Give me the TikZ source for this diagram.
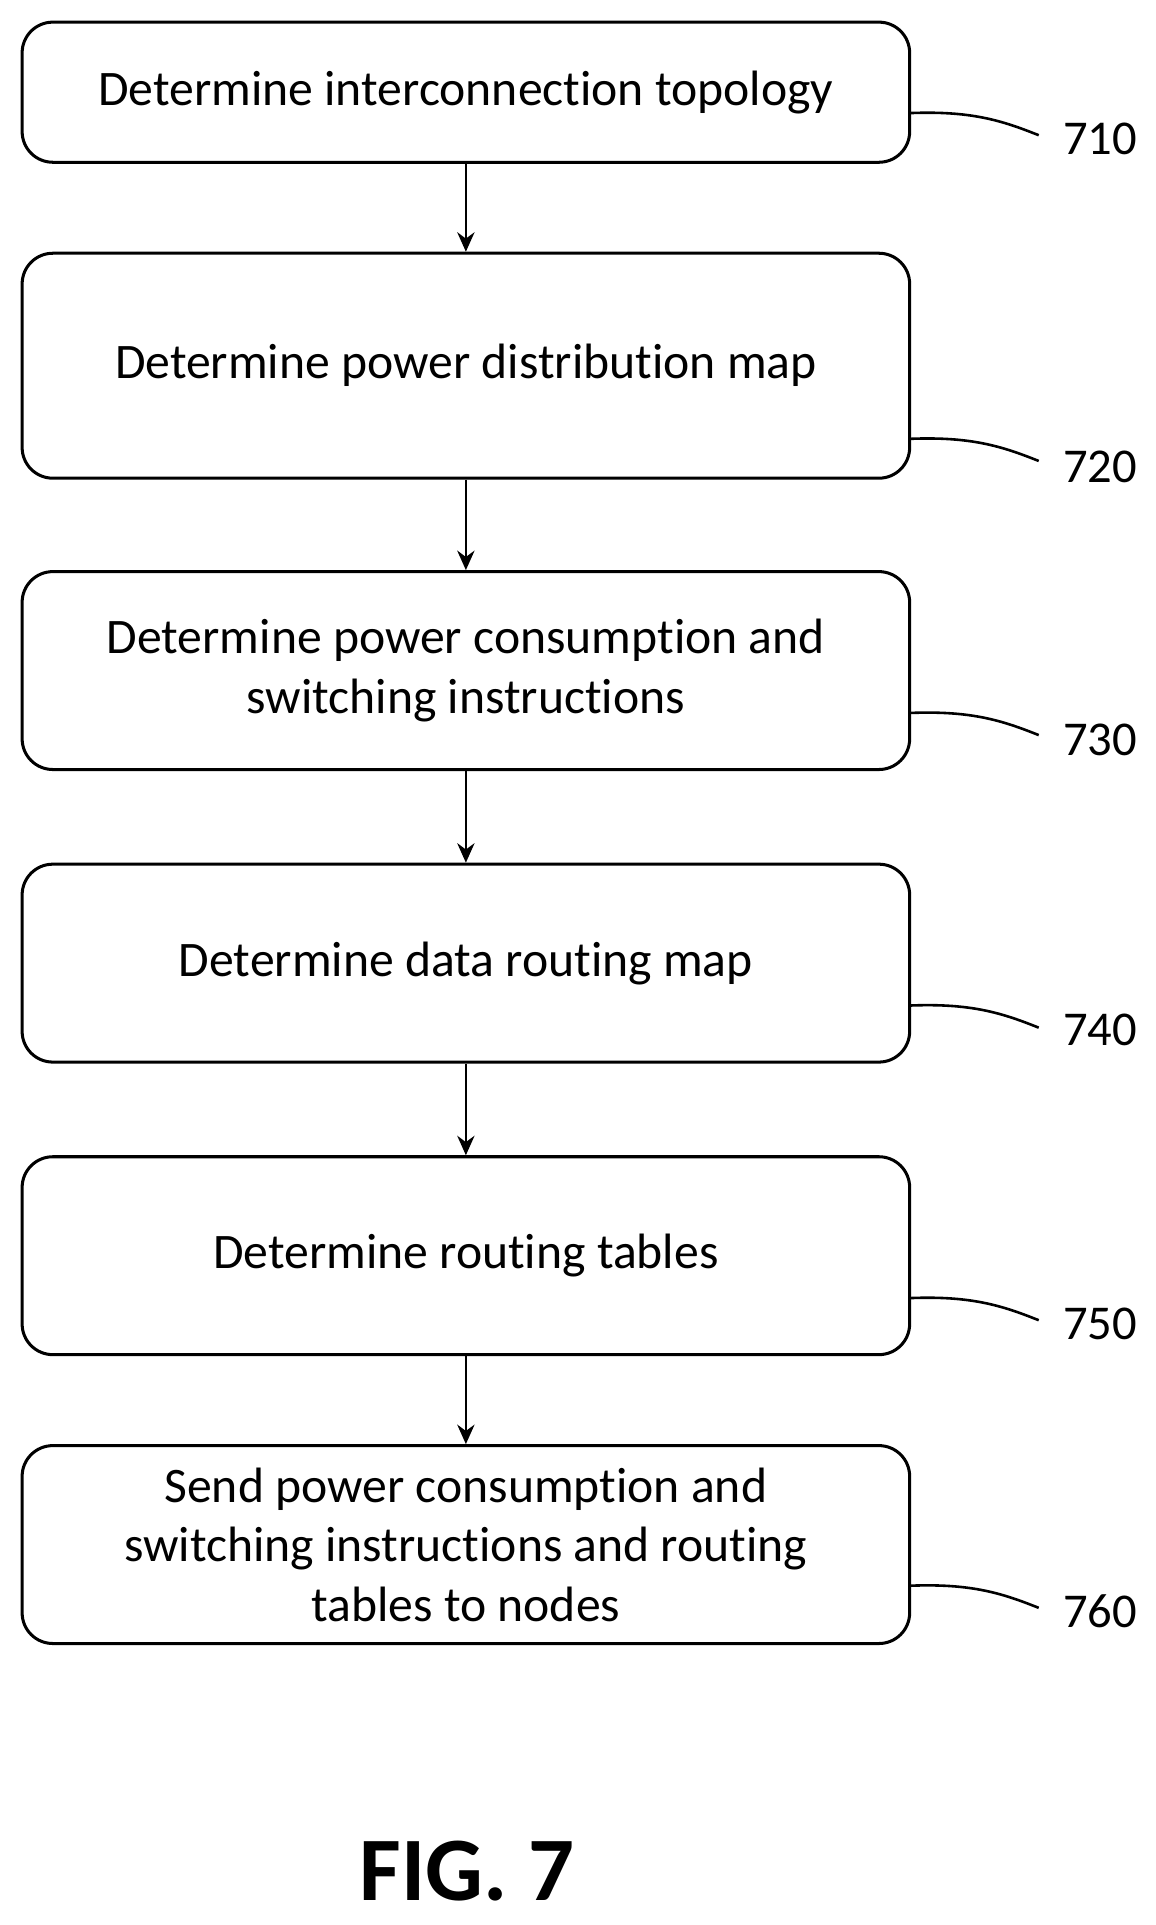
\documentclass[tikz,border=0pt]{standalone}
\usepackage{fontspec}
\setmainfont{Carlito}[Ligatures=NoCommon]
\usetikzlibrary{arrows.meta}
\begin{document}
\begin{tikzpicture}[x=0.02cm,y=-0.02cm,
  box/.style={draw,line width=1.4pt,rounded corners=0.5cm,align=center,font=\fontsize{23}{27.5}\selectfont},
  txt/.style={font=\fontsize{22.5}{27.5}\selectfont},
  arr/.style={-{Stealth[length=9pt,width=8pt]},line width=1.2pt},
  lead/.style={line width=1.2pt}]
\useasboundingbox (0,0) rectangle (940,1566);
\newcommand{\bx}[4]{\node[box,minimum width=722*0.02cm,minimum height={(#3-#2)*0.02cm}] (#1) at (379,{(#2+#3)/2}) {#4};}
\bx{b1}{18}{132}{Determine interconnection topology}
\bx{b2}{206}{389}{Determine power distribution map}
\bx{b3}{465}{626}{Determine power consumption and\\switching instructions}
\bx{b4}{703}{864}{Determine data routing map}
\bx{b5}{941}{1102}{Determine routing tables}
\bx{b6}{1176}{1337}{Send power consumption and\\switching instructions and routing\\tables to nodes}
\foreach \a/\b in {b1/b2,b2/b3,b3/b4,b4/b5,b5/b6} \draw[arr] (\a.south) -- (\b.north);
\foreach \n/\y/\ly/\t in {b1/92/113/710,b2/357/380/720,b3/580/602/730,b4/818/838/740,b5/1056/1077/750,b6/1290/1311/760}{
  \node[txt] (l\n) at (895,\ly) {\t};
  \coordinate (c\n) at (740,\y);
  \draw[lead] (c\n) .. controls (790,\y-2) and (815,\y+6) .. (845,\y+18);
}
\node[font=\fontsize{42}{48}\selectfont\bfseries] (fig) at (380,1522) {FIG. 7};
\end{tikzpicture}
\end{document}
